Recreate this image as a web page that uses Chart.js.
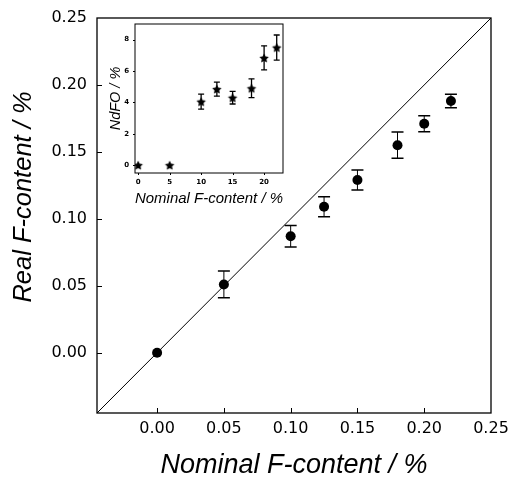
<!DOCTYPE html>
<html>
<head>
<meta charset="utf-8">
<script src="https://cdn.jsdelivr.net/npm/chart.js@4.4.0/dist/chart.umd.min.js"></script>
<style>
    html, body { margin: 0; padding: 0; background: #fff; }
    #wrap { position: relative; width: 511px; height: 485px; }
    #mainChart { position: absolute; left: 0; top: 0; }
    #insetChart { position: absolute; left: 105px; top: 14px; }
</style>
</head>
<body>
<div id="wrap">
    <canvas id="mainChart" width="511" height="485"></canvas>
    <canvas id="insetChart" width="190" height="200"></canvas>
</div>
<script>
// main panel - real vs nominal F-content
const nominal = [0, 0.05, 0.10, 0.125, 0.15, 0.18, 0.20, 0.22];
const realF = [0, 0.051, 0.087, 0.109, 0.129, 0.155, 0.171, 0.188];
const realErr = [0, 0.010, 0.008, 0.0075, 0.0075, 0.0098, 0.006, 0.005];
const mainTicks = [0, 0.05, 0.10, 0.15, 0.20, 0.25];
const diagLine = [-0.045, 0.25];

// inset - NdFO vs nominal F-content
const insetNominal = [0, 5, 10, 12.5, 15, 18, 20, 22];
const ndfo = [0, 0, 4.05, 4.85, 4.3, 4.9, 6.84, 7.5];
const ndfoErr = [0, 0, 0.48, 0.45, 0.4, 0.6, 0.77, 0.8];
const insetXTicks = [0, 5, 10, 15, 20];
const insetYTicks = [0, 2, 4, 6, 8];

const FONT = 'DejaVu Sans';
const TITLE_FONT = 'Liberation Sans';

// error bars drawn through the chart scales
const errBars = {
    id: 'errBars',
    beforeDatasetsDraw(chart, args, o) {
        const { ctx, scales: { x, y } } = chart;
        ctx.save();
        ctx.strokeStyle = '#000';
        o.xs.forEach((xv, i) => {
            if (!o.err[i]) return;
            const px = x.getPixelForValue(xv);
            const top = y.getPixelForValue(o.ys[i] + o.err[i]);
            const bot = y.getPixelForValue(o.ys[i] - o.err[i]);
            ctx.lineWidth = o.stem;
            ctx.beginPath();
            ctx.moveTo(px, top);
            ctx.lineTo(px, bot);
            ctx.stroke();
            ctx.lineWidth = o.capWidth;
            ctx.beginPath();
            ctx.moveTo(px - o.cap, top); ctx.lineTo(px + o.cap, top);
            ctx.moveTo(px - o.cap, bot); ctx.lineTo(px + o.cap, bot);
            ctx.stroke();
        });
        ctx.restore();
    }
};

// box around plot area + small tick marks (dir 1 = inward, -1 = outward)
const frame = {
    id: 'frame',
    afterDraw(chart, args, o) {
        const { ctx, chartArea: a, scales: { x, y } } = chart;
        ctx.save();
        ctx.strokeStyle = '#000';
        ctx.lineWidth = o.width;
        ctx.strokeRect(a.left, a.top, a.right - a.left, a.bottom - a.top);
        ctx.lineWidth = 1;
        ctx.beginPath();
        o.xTicks.forEach(v => {
            const p = Math.round(x.getPixelForValue(v)) + 0.5;
            ctx.moveTo(p, a.bottom);
            ctx.lineTo(p, a.bottom - o.dir * o.len);
        });
        o.yTicks.forEach(v => {
            const p = Math.round(y.getPixelForValue(v)) + 0.5;
            ctx.moveTo(a.left, p);
            ctx.lineTo(a.left + o.dir * o.len, p);
        });
        ctx.stroke();
        // rotated y title, sits a bit above the middle of the axis like the original
        if (o.yTitle) {
            ctx.translate(o.yTitle.x, o.yTitle.y);
            ctx.rotate(-Math.PI / 2);
            ctx.font = o.yTitle.font;
            ctx.fillStyle = '#000';
            ctx.textAlign = 'center';
            ctx.textBaseline = 'middle';
            ctx.fillText(o.yTitle.text, 0, 0);
        }
        ctx.restore();
    }
};

function makeStar(r) {
    const c = document.createElement('canvas');
    const s = Math.ceil(r * 2) + 2;
    c.width = c.height = s;
    const g = c.getContext('2d');
    g.fillStyle = '#000';
    g.beginPath();
    for (let k = 0; k < 10; k++) {
        const rr = k % 2 ? r * 0.5 : r;
        const ang = -Math.PI / 2 + k * Math.PI / 5;
        g.lineTo(s / 2 + rr * Math.cos(ang), s / 2 + 0.5 + rr * Math.sin(ang));
    }
    g.closePath();
    g.fill();
    return c;
}

const noGrid = { display: false, drawTicks: false };
const noBorder = { display: false };

new Chart(document.getElementById('mainChart'), {
    data: {
        datasets: [{
            type: 'line',
            data: diagLine.map(v => ({ x: v, y: v })),
            borderColor: '#000',
            borderWidth: 1,
            pointRadius: 0
        }, {
            type: 'scatter',
            data: nominal.map((v, i) => ({ x: v, y: realF[i] })),
            backgroundColor: '#000',
            borderWidth: 0,
            pointRadius: 5
        }]
    },
    options: {
        responsive: false,
        animation: false,
        layout: { padding: { top: 18, right: 20, left: 0, bottom: 0 } },
        plugins: {
            legend: { display: false },
            tooltip: { enabled: false },
            errBars: { xs: nominal, ys: realF, err: realErr, cap: 6, stem: 1, capWidth: 1.5 },
            frame: {
                width: 1.3, xTicks: mainTicks.slice(0, -1), yTicks: mainTicks.slice(0, -1), dir: 1, len: 5,
                yTitle: { text: 'Real F-content / %', x: 24, y: 197, font: 'italic 25.5px "' + TITLE_FONT + '"' }
            }
        },
        scales: {
            x: {
                type: 'linear', min: -0.045, max: 0.25,
                grid: noGrid, border: noBorder,
                afterBuildTicks: s => { s.ticks = mainTicks.map(v => ({ value: v })); },
                afterFit: s => { s.height = 72; s.paddingLeft = 0; s.paddingRight = 0; },
                ticks: { color: '#000', font: { family: FONT, size: 16 }, padding: 6, maxRotation: 0, autoSkip: false, callback: v => v.toFixed(2) },
                title: { display: true, text: 'Nominal F-content / %', color: '#000', font: { family: TITLE_FONT, size: 27, style: 'italic' }, padding: { top: 0, bottom: 3 } }
            },
            y: {
                type: 'linear', min: -0.045, max: 0.25,
                grid: noGrid, border: noBorder,
                afterBuildTicks: s => { s.ticks = mainTicks.map(v => ({ value: v })); },
                afterFit: s => { s.width = 97; s.paddingTop = 0; s.paddingBottom = 0; },
                ticks: { color: '#000', font: { family: FONT, size: 16 }, padding: 10, autoSkip: false, callback: v => v.toFixed(2) },
                title: { display: false }
            }
        }
    },
    plugins: [errBars, frame]
});

new Chart(document.getElementById('insetChart'), {
    type: 'scatter',
    data: {
        datasets: [{
            data: insetNominal.map((v, i) => ({ x: v, y: ndfo[i] })),
            pointStyle: makeStar(5),
            pointRadius: 5
        }]
    },
    options: {
        responsive: false,
        animation: false,
        layout: { padding: { top: 10, right: 12, left: 0, bottom: 0 } },
        plugins: {
            legend: { display: false },
            tooltip: { enabled: false },
            errBars: { xs: insetNominal, ys: ndfo, err: ndfoErr, cap: 3, stem: 1.3, capWidth: 1.3 },
            frame: { width: 1, xTicks: insetXTicks, yTicks: insetYTicks, dir: -1, len: 2 }
        },
        scales: {
            x: {
                type: 'linear', min: -0.5, max: 23,
                grid: noGrid, border: noBorder,
                afterBuildTicks: s => { s.ticks = insetXTicks.map(v => ({ value: v })); },
                afterFit: s => { s.height = 41; s.paddingLeft = 0; s.paddingRight = 0; },
                ticks: { color: '#000', font: { family: FONT, size: 7, weight: 'bold' }, padding: 5, maxRotation: 0, autoSkip: false },
                title: { display: true, text: 'Nominal F-content / %', color: '#000', font: { family: TITLE_FONT, size: 15, style: 'italic' }, padding: { top: 0, bottom: 6 } }
            },
            y: {
                type: 'linear', min: -0.5, max: 9,
                grid: noGrid, border: noBorder,
                afterBuildTicks: s => { s.ticks = insetYTicks.map(v => ({ value: v })); },
                afterFit: s => { s.width = 30; s.paddingTop = 0; s.paddingBottom = 0; },
                ticks: { color: '#000', font: { family: FONT, size: 7, weight: 'bold' }, padding: 6, autoSkip: false },
                title: { display: true, text: 'NdFO / %', color: '#000', font: { family: TITLE_FONT, size: 14.5, style: 'italic' }, padding: { top: 2, bottom: 0 } }
            }
        }
    },
    plugins: [errBars, frame]
});
</script>
</body>
</html>
